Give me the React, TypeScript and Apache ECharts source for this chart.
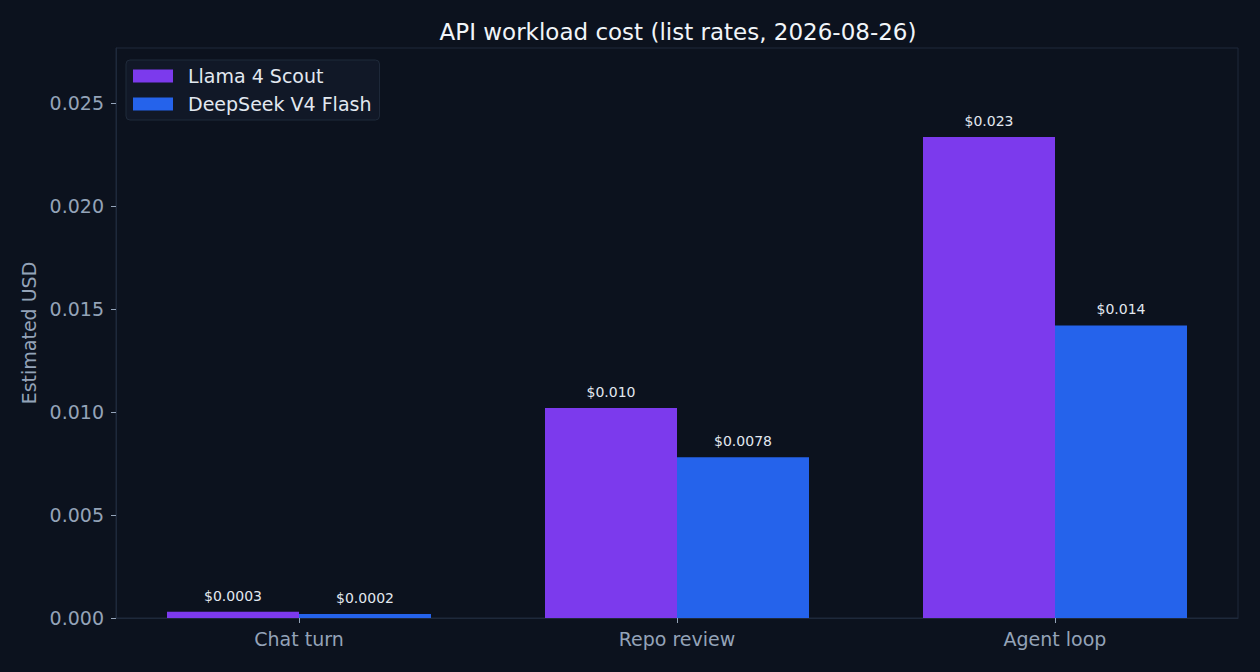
import React, { useEffect, useRef } from 'react';
import * as echarts from 'echarts';

const categories = ['Chat turn', 'Repo review', 'Agent loop'];
const seriesNames = ['Llama 4 Scout', 'DeepSeek V4 Flash'];
const llamaValues = [0.0003, 0.0102, 0.02335];
const deepseekValues = [0.0002, 0.0078, 0.0142];
const llamaLabels = ['$0.0003', '$0.010', '$0.023'];
const deepseekLabels = ['$0.0002', '$0.0078', '$0.014'];
const yTicks = [0, 0.005, 0.01, 0.015, 0.02, 0.025];

const FONT = 'DejaVu Sans';
const BG = '#0c121e';
const MUTED = '#94a3b8';
const FRAME = '#1e293b';
const Y_MAX = 0.02767;

const App: React.FC = () => {
  const chartRef = useRef<HTMLDivElement>(null);

  useEffect(() => {
    if (!chartRef.current) return;
    const chart = echarts.init(chartRef.current, undefined, { renderer: 'svg' });

    const makeSeries = (name: string, data: number[], labels: string[], color: string) => ({
      name,
      type: 'bar' as const,
      xAxisIndex: 0,
      yAxisIndex: 0,
      data,
      barWidth: 132,
      barGap: '0%',
      itemStyle: { color },
      label: {
        show: true,
        position: 'top' as const,
        distance: 9,
        color: '#e2e8f0',
        fontFamily: FONT,
        fontSize: 14,
        formatter: (p: any) => labels[p.dataIndex],
      },
    });

    chart.setOption({
      animation: false,
      backgroundColor: BG,
      textStyle: { fontFamily: FONT },
      title: {
        text: 'API workload cost (list rates, 2026-08-26)',
        left: 673,
        textAlign: 'center',
        top: 15,
        textStyle: { color: '#f1f5f9', fontSize: 23, fontWeight: 'normal', fontFamily: FONT },
      },
      legend: {
        data: seriesNames,
        orient: 'vertical',
        left: 126,
        top: 60,
        padding: [6, 8, 6, 7],
        itemGap: 8,
        itemWidth: 40,
        itemHeight: 13,
        backgroundColor: '#111827',
        borderColor: '#1f2a3a',
        borderWidth: 1,
        borderRadius: 4,
        icon: 'rect',
        textStyle: { color: '#e2e8f0', fontSize: 19, lineHeight: 20, fontFamily: FONT, padding: [0, 0, 0, 10] },
      },
      grid: [
        // bar grid: widened so category centres match the reference
        { left: 110, right: 16, top: 48, bottom: 54 },
        // frame grid
        {
          left: 116,
          right: 22,
          top: 48,
          bottom: 54,
          show: true,
          borderColor: FRAME,
          borderWidth: 1,
          backgroundColor: 'transparent',
        },
      ],
      xAxis: [
        {
          type: 'category',
          gridIndex: 0,
          data: categories,
          axisLine: { show: false },
          axisTick: { show: true, alignWithLabel: true, length: 5, lineStyle: { color: MUTED } },
          axisLabel: { color: MUTED, fontSize: 19, fontFamily: FONT, margin: 11 },
        },
        {
          type: 'value',
          gridIndex: 1,
          min: 0,
          max: 1,
          axisLine: { show: true, lineStyle: { color: FRAME } },
          axisTick: { show: false },
          axisLabel: { show: false },
          splitLine: { show: false },
        },
      ],
      yAxis: [
        {
          type: 'value',
          gridIndex: 0,
          min: 0,
          max: Y_MAX,
          show: false,
          splitLine: { show: false },
        },
        {
          type: 'value',
          gridIndex: 1,
          min: 0,
          max: Y_MAX,
          interval: 0.005,
          name: 'Estimated USD',
          nameLocation: 'middle',
          nameGap: 76,
          nameTextStyle: { color: MUTED, fontSize: 19, fontFamily: FONT },
          splitLine: { show: false },
          axisLine: { show: true, lineStyle: { color: FRAME } },
          axisTick: { show: true, length: 5, lineStyle: { color: MUTED } },
          axisLabel: {
            color: MUTED,
            fontSize: 19,
            fontFamily: FONT,
            margin: 12,
            showMaxLabel: false,
            formatter: (v: number) => (yTicks.some((t) => Math.abs(t - v) < 1e-9) ? v.toFixed(3) : ''),
          },
        },
      ],
      series: [
        makeSeries(seriesNames[0], llamaValues, llamaLabels, '#7c3aed'),
        makeSeries(seriesNames[1], deepseekValues, deepseekLabels, '#2563eb'),
      ],
    });

    return () => {
      chart.dispose();
    };
  }, []);

  return (
    <div
      ref={chartRef}
      style={{ position: 'fixed', left: 0, top: 0, width: 1260, height: 672 }}
    />
  );
};

export default App;
